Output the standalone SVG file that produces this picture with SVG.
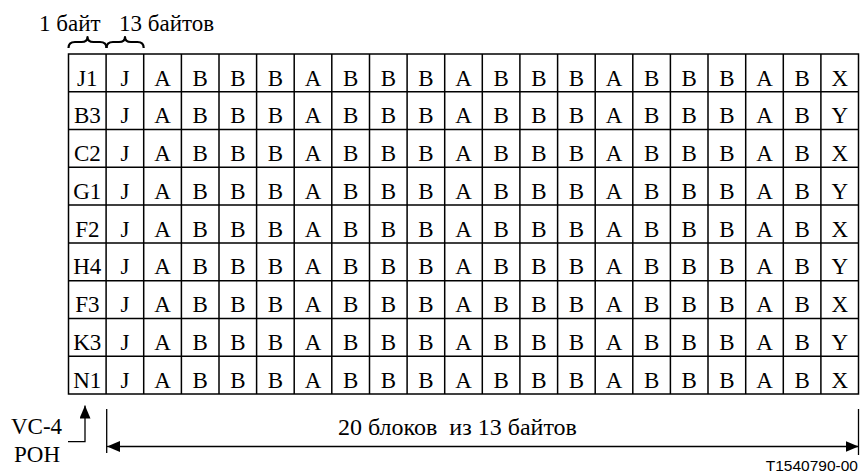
<svg xmlns="http://www.w3.org/2000/svg" width="860" height="474" viewBox="0 0 860 474">
<style>
.t{font-family:"Liberation Serif","Times New Roman",serif;font-size:23px;fill:#000;text-anchor:middle}
.l{font-family:"Liberation Serif","Times New Roman",serif;font-size:23px;fill:#000}
.g{stroke:#000;stroke-width:1.5;fill:none}
.c{stroke:#000;stroke-width:1.3;fill:none}
.br{stroke:#000;stroke-width:2.2;fill:none;stroke-linejoin:round}
.id{font-family:"Liberation Sans",Arial,sans-serif;font-size:15.5px;fill:#000;text-anchor:end}
</style>
<defs>
<marker id="ah" viewBox="0 0 13 11" refX="13" refY="5.5" markerWidth="13" markerHeight="11" markerUnits="userSpaceOnUse" orient="auto">
<path d="M0,0 L13,5.5 L0,11 Z" fill="#000"/>
</marker>
</defs>
<rect width="860" height="474" fill="#fff"/>
<g id="labels-top">
<text class="l" x="39" y="30.5">1 байт</text>
<text class="l" x="119" y="30.5">13 байтов</text>
</g>
<g id="braces">
<path class="br" d="M68.5,48 Q68.5,42 75,42 L81.5,42 Q87.5,42 87.5,37 Q87.5,42 93.5,42 L100,42 Q106.5,42 106.5,48"/>
<path class="br" d="M106.5,48 Q106.5,42 113,42 L119,42 Q125,42 125,37 Q125,42 131,42 L137.5,42 Q143.7,42 143.7,48"/>
</g>
<g id="grid">
<rect class="g" x="68.5" y="54" width="790" height="340"/>
<path class="g" d="M68.5,91.8H858.5M68.5,129.6H858.5M68.5,167.3H858.5M68.5,205.1H858.5M68.5,242.9H858.5M68.5,280.7H858.5M68.5,318.5H858.5M68.5,356.2H858.5"/>
<path class="g" d="M106.1,54V394M143.7,54V394M181.4,54V394M219,54V394M256.6,54V394M294.2,54V394M331.8,54V394M369.5,54V394M407.1,54V394M444.7,54V394M482.3,54V394M519.9,54V394M557.6,54V394M595.2,54V394M632.8,54V394M670.4,54V394M708,54V394M745.7,54V394M783.3,54V394M820.9,54V394"/>
</g>
<g id="row1"><text class="t" x="87.3" y="85.5">J1</text><text class="t" x="124.9" y="85.5">J</text><text class="t" x="162.6" y="85.5">A</text><text class="t" x="200.2" y="85.5">B</text><text class="t" x="237.8" y="85.5">B</text><text class="t" x="275.4" y="85.5">B</text><text class="t" x="313" y="85.5">A</text><text class="t" x="350.7" y="85.5">B</text><text class="t" x="388.3" y="85.5">B</text><text class="t" x="425.9" y="85.5">B</text><text class="t" x="463.5" y="85.5">A</text><text class="t" x="501.1" y="85.5">B</text><text class="t" x="538.8" y="85.5">B</text><text class="t" x="576.4" y="85.5">B</text><text class="t" x="614" y="85.5">A</text><text class="t" x="651.6" y="85.5">B</text><text class="t" x="689.2" y="85.5">B</text><text class="t" x="726.9" y="85.5">B</text><text class="t" x="764.5" y="85.5">A</text><text class="t" x="802.1" y="85.5">B</text><text class="t" x="839.7" y="85.5">X</text></g>
<g id="row2"><text class="t" x="87.3" y="123.3">B3</text><text class="t" x="124.9" y="123.3">J</text><text class="t" x="162.6" y="123.3">A</text><text class="t" x="200.2" y="123.3">B</text><text class="t" x="237.8" y="123.3">B</text><text class="t" x="275.4" y="123.3">B</text><text class="t" x="313" y="123.3">A</text><text class="t" x="350.7" y="123.3">B</text><text class="t" x="388.3" y="123.3">B</text><text class="t" x="425.9" y="123.3">B</text><text class="t" x="463.5" y="123.3">A</text><text class="t" x="501.1" y="123.3">B</text><text class="t" x="538.8" y="123.3">B</text><text class="t" x="576.4" y="123.3">B</text><text class="t" x="614" y="123.3">A</text><text class="t" x="651.6" y="123.3">B</text><text class="t" x="689.2" y="123.3">B</text><text class="t" x="726.9" y="123.3">B</text><text class="t" x="764.5" y="123.3">A</text><text class="t" x="802.1" y="123.3">B</text><text class="t" x="839.7" y="123.3">Y</text></g>
<g id="row3"><text class="t" x="87.3" y="161.1">C2</text><text class="t" x="124.9" y="161.1">J</text><text class="t" x="162.6" y="161.1">A</text><text class="t" x="200.2" y="161.1">B</text><text class="t" x="237.8" y="161.1">B</text><text class="t" x="275.4" y="161.1">B</text><text class="t" x="313" y="161.1">A</text><text class="t" x="350.7" y="161.1">B</text><text class="t" x="388.3" y="161.1">B</text><text class="t" x="425.9" y="161.1">B</text><text class="t" x="463.5" y="161.1">A</text><text class="t" x="501.1" y="161.1">B</text><text class="t" x="538.8" y="161.1">B</text><text class="t" x="576.4" y="161.1">B</text><text class="t" x="614" y="161.1">A</text><text class="t" x="651.6" y="161.1">B</text><text class="t" x="689.2" y="161.1">B</text><text class="t" x="726.9" y="161.1">B</text><text class="t" x="764.5" y="161.1">A</text><text class="t" x="802.1" y="161.1">B</text><text class="t" x="839.7" y="161.1">X</text></g>
<g id="row4"><text class="t" x="87.3" y="198.8">G1</text><text class="t" x="124.9" y="198.8">J</text><text class="t" x="162.6" y="198.8">A</text><text class="t" x="200.2" y="198.8">B</text><text class="t" x="237.8" y="198.8">B</text><text class="t" x="275.4" y="198.8">B</text><text class="t" x="313" y="198.8">A</text><text class="t" x="350.7" y="198.8">B</text><text class="t" x="388.3" y="198.8">B</text><text class="t" x="425.9" y="198.8">B</text><text class="t" x="463.5" y="198.8">A</text><text class="t" x="501.1" y="198.8">B</text><text class="t" x="538.8" y="198.8">B</text><text class="t" x="576.4" y="198.8">B</text><text class="t" x="614" y="198.8">A</text><text class="t" x="651.6" y="198.8">B</text><text class="t" x="689.2" y="198.8">B</text><text class="t" x="726.9" y="198.8">B</text><text class="t" x="764.5" y="198.8">A</text><text class="t" x="802.1" y="198.8">B</text><text class="t" x="839.7" y="198.8">Y</text></g>
<g id="row5"><text class="t" x="87.3" y="236.6">F2</text><text class="t" x="124.9" y="236.6">J</text><text class="t" x="162.6" y="236.6">A</text><text class="t" x="200.2" y="236.6">B</text><text class="t" x="237.8" y="236.6">B</text><text class="t" x="275.4" y="236.6">B</text><text class="t" x="313" y="236.6">A</text><text class="t" x="350.7" y="236.6">B</text><text class="t" x="388.3" y="236.6">B</text><text class="t" x="425.9" y="236.6">B</text><text class="t" x="463.5" y="236.6">A</text><text class="t" x="501.1" y="236.6">B</text><text class="t" x="538.8" y="236.6">B</text><text class="t" x="576.4" y="236.6">B</text><text class="t" x="614" y="236.6">A</text><text class="t" x="651.6" y="236.6">B</text><text class="t" x="689.2" y="236.6">B</text><text class="t" x="726.9" y="236.6">B</text><text class="t" x="764.5" y="236.6">A</text><text class="t" x="802.1" y="236.6">B</text><text class="t" x="839.7" y="236.6">X</text></g>
<g id="row6"><text class="t" x="87.3" y="274.4">H4</text><text class="t" x="124.9" y="274.4">J</text><text class="t" x="162.6" y="274.4">A</text><text class="t" x="200.2" y="274.4">B</text><text class="t" x="237.8" y="274.4">B</text><text class="t" x="275.4" y="274.4">B</text><text class="t" x="313" y="274.4">A</text><text class="t" x="350.7" y="274.4">B</text><text class="t" x="388.3" y="274.4">B</text><text class="t" x="425.9" y="274.4">B</text><text class="t" x="463.5" y="274.4">A</text><text class="t" x="501.1" y="274.4">B</text><text class="t" x="538.8" y="274.4">B</text><text class="t" x="576.4" y="274.4">B</text><text class="t" x="614" y="274.4">A</text><text class="t" x="651.6" y="274.4">B</text><text class="t" x="689.2" y="274.4">B</text><text class="t" x="726.9" y="274.4">B</text><text class="t" x="764.5" y="274.4">A</text><text class="t" x="802.1" y="274.4">B</text><text class="t" x="839.7" y="274.4">Y</text></g>
<g id="row7"><text class="t" x="87.3" y="312.2">F3</text><text class="t" x="124.9" y="312.2">J</text><text class="t" x="162.6" y="312.2">A</text><text class="t" x="200.2" y="312.2">B</text><text class="t" x="237.8" y="312.2">B</text><text class="t" x="275.4" y="312.2">B</text><text class="t" x="313" y="312.2">A</text><text class="t" x="350.7" y="312.2">B</text><text class="t" x="388.3" y="312.2">B</text><text class="t" x="425.9" y="312.2">B</text><text class="t" x="463.5" y="312.2">A</text><text class="t" x="501.1" y="312.2">B</text><text class="t" x="538.8" y="312.2">B</text><text class="t" x="576.4" y="312.2">B</text><text class="t" x="614" y="312.2">A</text><text class="t" x="651.6" y="312.2">B</text><text class="t" x="689.2" y="312.2">B</text><text class="t" x="726.9" y="312.2">B</text><text class="t" x="764.5" y="312.2">A</text><text class="t" x="802.1" y="312.2">B</text><text class="t" x="839.7" y="312.2">X</text></g>
<g id="row8"><text class="t" x="87.3" y="350">K3</text><text class="t" x="124.9" y="350">J</text><text class="t" x="162.6" y="350">A</text><text class="t" x="200.2" y="350">B</text><text class="t" x="237.8" y="350">B</text><text class="t" x="275.4" y="350">B</text><text class="t" x="313" y="350">A</text><text class="t" x="350.7" y="350">B</text><text class="t" x="388.3" y="350">B</text><text class="t" x="425.9" y="350">B</text><text class="t" x="463.5" y="350">A</text><text class="t" x="501.1" y="350">B</text><text class="t" x="538.8" y="350">B</text><text class="t" x="576.4" y="350">B</text><text class="t" x="614" y="350">A</text><text class="t" x="651.6" y="350">B</text><text class="t" x="689.2" y="350">B</text><text class="t" x="726.9" y="350">B</text><text class="t" x="764.5" y="350">A</text><text class="t" x="802.1" y="350">B</text><text class="t" x="839.7" y="350">Y</text></g>
<g id="row9"><text class="t" x="87.3" y="387.7">N1</text><text class="t" x="124.9" y="387.7">J</text><text class="t" x="162.6" y="387.7">A</text><text class="t" x="200.2" y="387.7">B</text><text class="t" x="237.8" y="387.7">B</text><text class="t" x="275.4" y="387.7">B</text><text class="t" x="313" y="387.7">A</text><text class="t" x="350.7" y="387.7">B</text><text class="t" x="388.3" y="387.7">B</text><text class="t" x="425.9" y="387.7">B</text><text class="t" x="463.5" y="387.7">A</text><text class="t" x="501.1" y="387.7">B</text><text class="t" x="538.8" y="387.7">B</text><text class="t" x="576.4" y="387.7">B</text><text class="t" x="614" y="387.7">A</text><text class="t" x="651.6" y="387.7">B</text><text class="t" x="689.2" y="387.7">B</text><text class="t" x="726.9" y="387.7">B</text><text class="t" x="764.5" y="387.7">A</text><text class="t" x="802.1" y="387.7">B</text><text class="t" x="839.7" y="387.7">X</text></g>
<g id="connectors">
<path class="c" d="M68,441.7H85V405.5" marker-end="url(#ah)"/>
<path class="c" d="M106.7,409V453"/>
<path class="c" d="M858.5,409V455"/>
<path class="c" d="M120,446.5H107" marker-end="url(#ah)"/>
<path class="c" d="M118,446.5H858.5" marker-end="url(#ah)"/>
</g>
<g id="vc4-poh">
<text class="l" x="11" y="434">VC-4</text>
<text class="l" x="14" y="462">POH</text>
</g>
<g id="span-label">
<text class="l" x="338" y="435" xml:space="preserve" style="white-space:pre;font-size:24px">20 блоков  из 13 байтов</text>
</g>
<text class="id" x="858" y="471">T1540790-00</text>
</svg>
